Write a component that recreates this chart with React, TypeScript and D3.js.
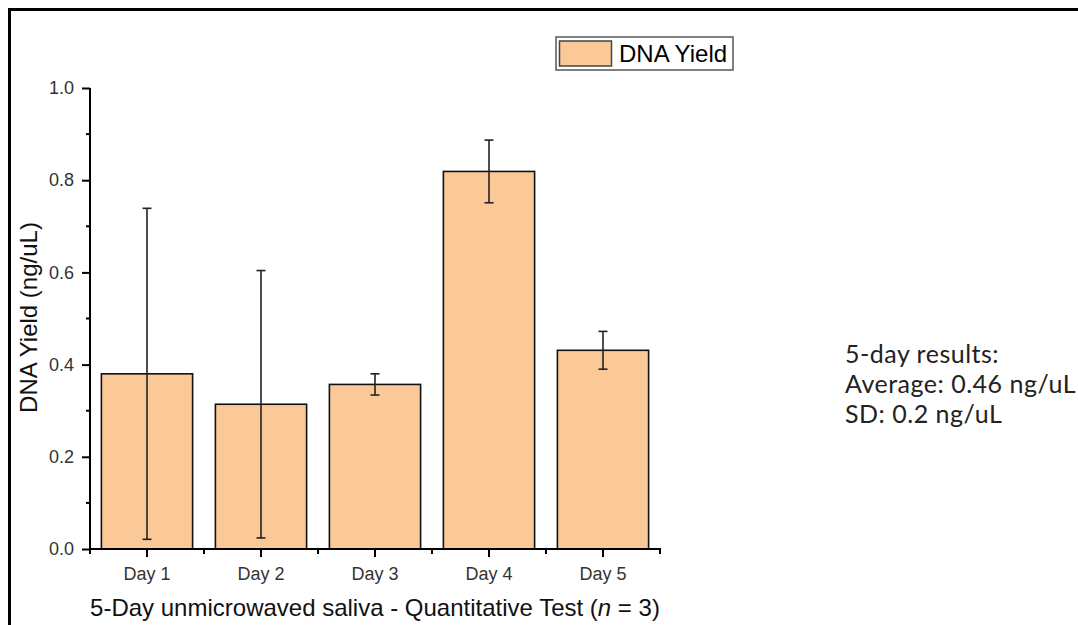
import React, { useRef, useEffect } from 'react';
import * as d3 from 'd3';

// DNA yield per day (mean ± SD, n = 3)
const DAYS = ['Day 1', 'Day 2', 'Day 3', 'Day 4', 'Day 5'];
const MEANS = [0.38, 0.314, 0.357, 0.819, 0.431];
const SDS = [0.359, 0.29, 0.023, 0.068, 0.041];

const Y_TICKS = [0, 0.2, 0.4, 0.6, 0.8, 1.0];
const Y_MINOR = [0.1, 0.3, 0.5, 0.7, 0.9];
const SUMMARY = ['5-day results:', 'Average: 0.46 ng/uL', 'SD: 0.2 ng/uL'];

const W = 1078;
const H = 625;
const PLOT = { left: 90, right: 660, top: 88, bottom: 549 };
const BAR_FILL = '#fbc898';
const SANS = '"Liberation Sans", Arial, sans-serif';

const App: React.FC = () => {
  const svgRef = useRef<SVGSVGElement>(null);

  useEffect(() => {
    if (!svgRef.current) return;
    const svg = d3.select(svgRef.current);
    svg.selectAll('*').remove();

    svg.append('rect').attr('width', W).attr('height', H).attr('fill', '#fff');

    // outer frame (cropped on right / bottom)
    svg.append('path')
      .attr('d', `M9.5,${H + 5}V9.5H${W + 5}`)
      .attr('fill', 'none').attr('stroke', '#000').attr('stroke-width', 3);

    const x = d3.scaleBand<string>()
      .domain(DAYS)
      .range([PLOT.left, PLOT.right])
      .paddingInner(0.2)
      .paddingOuter(0.1);
    const y = d3.scaleLinear().domain([0, 1]).range([PLOT.bottom, PLOT.top]);

    // ── bars ──
    svg.append('g').selectAll('rect')
      .data(DAYS)
      .join('rect')
      .attr('x', d => x(d)!)
      .attr('y', (d, i) => y(MEANS[i]))
      .attr('width', x.bandwidth())
      .attr('height', (d, i) => y(0) - y(MEANS[i]))
      .attr('fill', BAR_FILL)
      .attr('stroke', '#111').attr('stroke-width', 1.6);

    // ── error bars ──
    const eb = svg.append('g').attr('stroke', '#222').attr('stroke-width', 1.6).attr('fill', 'none');
    DAYS.forEach((d, i) => {
      const cx = x(d)! + x.bandwidth() / 2;
      const hi = y(MEANS[i] + SDS[i]);
      const lo = y(MEANS[i] - SDS[i]);
      eb.append('line').attr('x1', cx).attr('x2', cx).attr('y1', hi).attr('y2', lo);
      eb.append('line').attr('x1', cx - 4.5).attr('x2', cx + 4.5).attr('y1', hi).attr('y2', hi);
      eb.append('line').attr('x1', cx - 4.5).attr('x2', cx + 4.5).attr('y1', lo).attr('y2', lo);
    });

    // ── Y axis ──
    const yAxis = svg.append('g').attr('transform', `translate(${PLOT.left},0)`);
    yAxis.call(d3.axisLeft(y).tickValues(Y_TICKS).tickSize(8).tickSizeOuter(0).tickPadding(8).tickFormat(d3.format('.1f')))
      .call(ax => ax.selectAll('line,path').attr('stroke', '#000').attr('stroke-width', 2))
      .call(ax => ax.selectAll('text').attr('fill', '#333').attr('font-size', '18px').attr('font-family', SANS));
    yAxis.select('.domain').attr('d', `M0,${PLOT.top}V${PLOT.bottom}`);
    yAxis.append('g').selectAll('line')
      .data(Y_MINOR).join('line')
      .attr('x1', -4).attr('x2', 0)
      .attr('y1', d => y(d)).attr('y2', d => y(d))
      .attr('stroke', '#000').attr('stroke-width', 2);

    // ── X axis ──
    const xAxis = svg.append('g').attr('transform', `translate(0,${PLOT.bottom})`);
    xAxis.call(d3.axisBottom(x).tickSize(8).tickSizeOuter(0).tickPadding(10))
      .call(ax => ax.selectAll('line,path').attr('stroke', '#000').attr('stroke-width', 2))
      .call(ax => ax.selectAll('text').attr('fill', '#333').attr('font-size', '18px').attr('font-family', SANS));
    xAxis.select('.domain').attr('d', `M${PLOT.left - 1},0H${PLOT.right + 1}`);
    const bounds = d3.range(DAYS.length + 1).map(k => PLOT.left + k * x.step());
    xAxis.append('g').selectAll('line')
      .data(bounds).join('line')
      .attr('x1', d => d).attr('x2', d => d)
      .attr('y1', 0).attr('y2', 5)
      .attr('stroke', '#000').attr('stroke-width', 2);

    // ── axis titles ──
    const xt = svg.append('text')
      .attr('x', (PLOT.left + PLOT.right) / 2).attr('y', 616)
      .attr('text-anchor', 'middle')
      .attr('font-family', SANS).attr('font-size', '24px').attr('fill', '#111');
    xt.append('tspan').text('5-Day unmicrowaved saliva - Quantitative Test (');
    xt.append('tspan').attr('font-style', 'italic').text('n');
    xt.append('tspan').text(' = 3)');

    svg.append('text')
      .attr('transform', `translate(37,${(222 + 413) / 2}) rotate(-90)`)
      .attr('text-anchor', 'middle')
      .attr('font-family', SANS).attr('font-size', '24px').attr('fill', '#111')
      .text('DNA Yield (ng/uL)');

    // ── legend ──
    const lg = svg.append('g').attr('transform', 'translate(556,37)');
    lg.append('rect').attr('width', 177).attr('height', 33)
      .attr('fill', '#fff').attr('stroke', '#555').attr('stroke-width', 1.5);
    lg.append('rect').attr('x', 3.5).attr('y', 4).attr('width', 52).attr('height', 25)
      .attr('fill', BAR_FILL).attr('stroke', '#444').attr('stroke-width', 1.5);
    lg.append('text').attr('x', 63).attr('y', 25)
      .attr('font-family', SANS).attr('font-size', '24px').attr('fill', '#000')
      .text('DNA Yield');

    // ── summary text ──
    svg.append('g').selectAll('text')
      .data(SUMMARY).join('text')
      .attr('x', 845).attr('y', (d, i) => 363 + i * 30)
      .attr('font-family', 'Lato, "Open Sans", sans-serif').attr('font-size', '25px')
      .attr('letter-spacing', '0.5px').attr('fill', '#222')
      .text(d => d);
  }, []);

  return (
    <svg ref={svgRef} width={W} height={H}
      style={{ position: 'absolute', left: 0, top: 0, display: 'block' }} />
  );
};

export default App;
